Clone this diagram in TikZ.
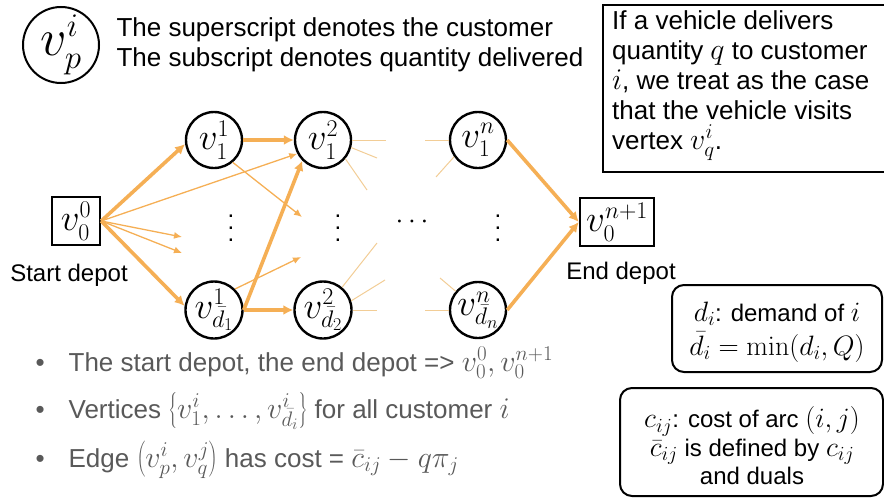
\RequirePackage{fix-cm}
\documentclass[tikz,border=0pt]{standalone}
\usepackage[no-math]{fontspec}
\setmainfont{Liberation Sans}
\usetikzlibrary{arrows.meta}
% larger math next to the sans text
\DeclareMathSizes{24}{28}{20}{15}
\DeclareMathSizes{26}{30}{21}{16}
\DeclareMathSizes{29}{37}{24}{18}
\DeclareMathSizes{40}{52}{33}{24}
\definecolor{arc}{RGB}{245,175,85}
\definecolor{faint}{RGB}{242,205,150}
\definecolor{txtgray}{RGB}{89,89,89}
\newcommand{\colvdots}{\vbox{\baselineskip=12pt\lineskiplimit=0pt\hbox{.}\hbox{.}\hbox{.}}}
\begin{document}
\begin{tikzpicture}[x=1pt,y=-1pt,
  vert/.style={circle,draw,line width=2.4pt,minimum size=56pt,inner sep=0pt,
    font=\fontsize{29}{29}\selectfont},
  depot/.style={rectangle,draw,line width=2.4pt,minimum width=48pt,minimum height=48pt,
    inner sep=1pt,font=\fontsize{29}{29}\selectfont},
  heavy/.style={draw=arc,line width=3.6pt,-{Latex[length=10pt,width=10pt]}},
  light/.style={draw=arc,line width=1.3pt,-{Latex[length=8pt,width=7pt]}},
  stub/.style={draw=faint,line width=1pt},
  dots/.style={font=\fontsize{24}{24}\selectfont,inner sep=0pt},
  lbl/.style={font=\fontsize{24}{24}\selectfont},
  body/.style={font=\fontsize{26}{30}\selectfont},
  note/.style={draw,line width=2pt,rounded corners=12pt},
  bullet/.style={anchor=west,text=txtgray,font=\fontsize{26}{26}\selectfont},
]
\useasboundingbox (0,0) rectangle (884,498);
\clip (0,0) rectangle (884,498);

% legend
\node[circle,draw,line width=2pt,minimum size=76pt,inner sep=0pt,
  font=\fontsize{40}{40}\selectfont] (legend) at (61,45) {$v_p^i$};
\node[body,anchor=west] (leg1) at (113,30) {The superscript denotes the customer};
\node[body,anchor=west] (leg2) at (113,60) {The subscript denotes quantity delivered};

% note at the top right
\draw[line width=2.5pt] (603,5) rectangle (900,172);
\node[body,anchor=north west,align=left,inner sep=0pt] (vis) at (612,10)
  {If a vehicle delivers\\quantity $q$ to customer\\$i$, we treat as the case\\that the vehicle visits\\vertex $v_q^i$.};

% depots
\node[depot] (v0) at (76,221) {$v_0^0$};
\node[depot,minimum width=74pt,inner sep=0pt] (vend) at (617,222) {$v_0^{n+1}$};
\node[lbl] (slbl) at (69,275) {Start depot};
\node[lbl] (elbl) at (621,273) {End depot};

% customer vertices
\node[vert] (v11) at (214,140) {$v_1^1$};
\node[vert] (v12) at (323,140) {$v_1^2$};
\node[vert] (v1n) at (478,140) {$v_1^n$};
\node[vert] (vd1) at (214,310) {$v_{\bar d_1}^1$};
\node[vert] (vd2) at (323,310) {$v_{\bar d_2}^2$};
\node[vert] (vdn) at (478,310) {$v_{\bar d_n}^n$};

\node[dots] (c1) at (231,228) {\colvdots};
\node[dots] (c2) at (338,228) {\colvdots};
\node[dots] (cn) at (498,228) {\colvdots};
\node[dots] (mid) at (412,222) {$\cdots$};

% loose arrow ends
\coordinate (a1) at (182,237);
\coordinate (a2) at (182,253);
\coordinate (a3) at (302,217);
\coordinate (a4) at (301,257);

% main arcs
\draw[heavy] (v0.east) -- (v11.188);
\draw[heavy] (v0.east) -- (vd1.172);
\draw[heavy] (v11) -- (v12);
\draw[heavy] (vd1) -- (vd2);
\draw[heavy] (vd1.east) -- (v12.225);
\draw[heavy] (v1n.east) -- (vend.west);
\draw[heavy] (vdn.east) -- (vend.west);

% secondary arcs
\draw[light] (v0.east) -- (v12.208);
\draw[light] (v0.east) -- (a1);
\draw[light] (v0.east) -- (a2);
\draw[light] (v11.-50) -- (a3);
\draw[light] (vd1.45) -- (a4);

% stubs towards the elided columns
\coordinate (s1) at (386,140);
\coordinate (s2) at (377,158);
\coordinate (s3) at (367,190);
\coordinate (s4) at (377,310);
\coordinate (s5) at (385,280);
\coordinate (s6) at (377,243);
\coordinate (t1) at (425,140);
\coordinate (t2) at (436,177);
\coordinate (t3) at (425,310);
\coordinate (t4) at (440,278);
\draw[stub] (v12.east) -- (s1);
\draw[stub] (v12.-15) -- (s2);
\draw[stub] (v12.-40) -- (s3);
\draw[stub] (vd2.east) -- (s4);
\draw[stub] (vd2.18) -- (s5);
\draw[stub] (vd2.50) -- (s6);
\draw[stub] (t1) -- (v1n.west);
\draw[stub] (t2) -- (v1n.-145);
\draw[stub] (t3) -- (vdn.west);
\draw[stub] (t4) -- (vdn.140);

% bullet list
\node[bullet] (b1) at (32,363) {\textbullet\hspace{24pt}The start depot, the end depot => $v_0^0, v_0^{n+1}$};
\node[bullet] (b2) at (32,411) {\textbullet\hspace{24pt}Vertices $\left\{v_1^i,\ldots,v_{\bar d_i}^i\right\}$ for all customer $i$};
\node[bullet] (b3) at (32,460) {\textbullet\hspace{24pt}Edge $\left(v_p^i,v_q^j\right)$ has cost = $\bar c_{ij}-q\pi_j$};

% definitions
\draw[note] (672,285) rectangle (882,372);
\node[lbl,align=center] (dem) at (777,332)
  {$d_i$: demand of $i$\\[6pt]$\bar d_i=\min(d_i,Q)$};
\draw[note] (620,388) rectangle (883,496);
\node[lbl,align=center] (cost) at (752,446)
  {$c_{ij}$: cost of arc $(i,j)$\\[2pt]$\bar c_{ij}$ is defined by $c_{ij}$\\[2pt]and duals};
\end{tikzpicture}
\end{document}
